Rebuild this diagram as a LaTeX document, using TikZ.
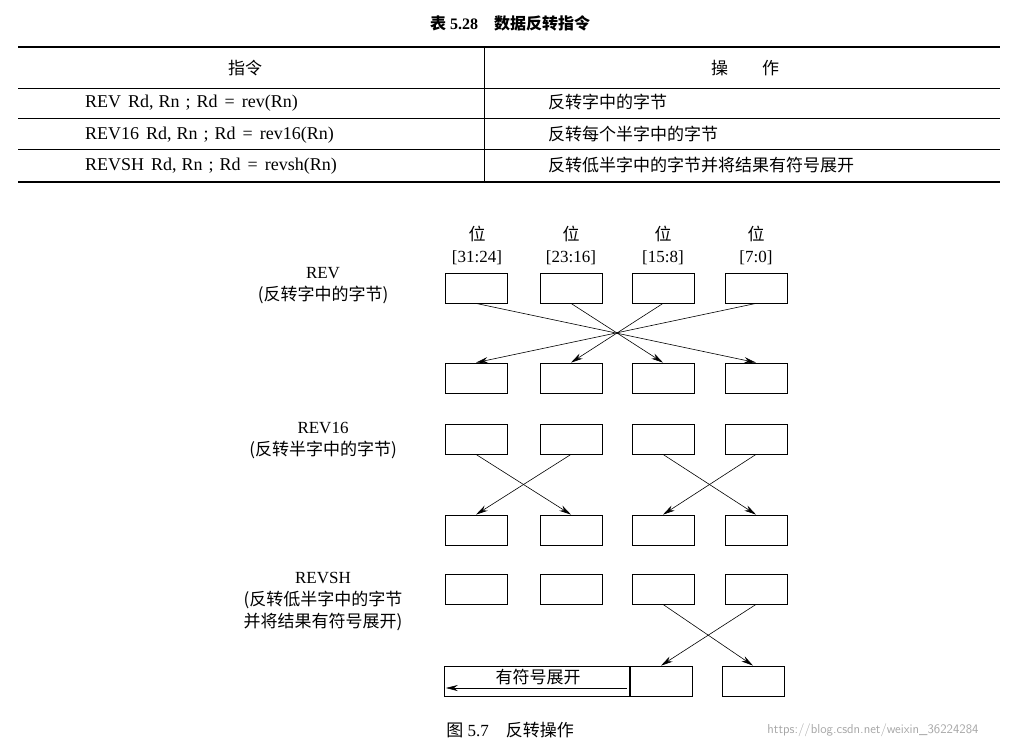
\documentclass[tikz,border=0pt]{standalone}
\usepackage{fontspec}
\setmainfont{Liberation Serif}
\newfontfamily\cjk{Noto Sans CJK SC}
\usetikzlibrary{arrows.meta}
\begin{document}
\begin{tikzpicture}[x=1pt,y=-1pt,
  bx/.style={draw,line width=0.8pt,minimum width=62pt,minimum height=30pt,inner sep=0pt},
  ar/.style={-{Stealth[length=12pt,width=6pt]},line width=0.6pt},
  txt/.style={font=\fontsize{17}{20}\selectfont,inner sep=0pt},
  row/.style={font=\fontsize{18}{20}\selectfont,inner sep=0pt,anchor=west},
  lab/.style={font=\fontsize{17}{22}\selectfont,inner sep=0pt,align=center}]
\useasboundingbox (0,0) rectangle (1020,747);
% table
\node[txt,font=\fontsize{16}{18}\selectfont\bfseries] (title) at (510,23) {{\cjk 表} 5.28\quad {\cjk 数据反转指令}};
\draw[line width=1.4pt] (18,47) -- (1000,47);
\draw[line width=0.6pt] (18,88) -- (1000,88);
\draw[line width=0.5pt] (18,118) -- (1000,118);
\draw[line width=0.5pt] (18,149) -- (1000,149);
\draw[line width=1.4pt] (18,182) -- (1000,182);
\draw[line width=0.5pt] (484,47) -- (484,182);
\node[txt] (h1) at (245,68) {\cjk 指令};
\node[txt] (h2) at (745,68) {\cjk 操\qquad 作};
\node[row] (r1) at (85,103) {REV\hspace{7pt}Rd,\hspace{5pt}Rn\hspace{6pt};\hspace{6pt}Rd\hspace{7pt}=\hspace{7pt}rev(Rn)};
\node[row] (r2) at (85,135) {REV16\hspace{7pt}Rd,\hspace{5pt}Rn\hspace{6pt};\hspace{6pt}Rd\hspace{7pt}=\hspace{7pt}rev16(Rn)};
\node[row] (r3) at (85,166) {REVSH\hspace{7pt}Rd,\hspace{5pt}Rn\hspace{6pt};\hspace{6pt}Rd\hspace{7pt}=\hspace{7pt}revsh(Rn)};
\node[txt,anchor=west] (o1) at (548,102) {\cjk 反转字中的字节};
\node[txt,anchor=west] (o2) at (548,134) {\cjk 反转每个半字中的字节};
\node[txt,anchor=west] (o3) at (548,165) {\cjk 反转低半字中的字节并将结果有符号展开};
% bit headers
\foreach \x/\t [count=\i] in {477/{[31:24]},571/{[23:16]},663/{[15:8]},756/{[7:0]}}{
  \node[lab] (b\i) at (\x,245) {{\cjk 位}\\\t};
}
% labels
\node[lab] (lrev) at (323,286) {REV\\{\cjk (反转字中的字节)}};
\node[lab] (lrev16) at (323,441) {REV16\\{\cjk (反转半字中的字节)}};
\node[lab] (lrevsh) at (323,602) {REVSH\\{\cjk (反转低半字中的字节}\\{\cjk 并将结果有符号展开)}};
% boxes
\foreach \x [count=\i] in {476,571,663,756}{
  \node[bx] (a\i) at (\x,288) {};
  \node[bx] (c\i) at (\x,378) {};
  \node[bx] (d\i) at (\x,439) {};
  \node[bx] (e\i) at (\x,530) {};
  \node[bx] (f\i) at (\x,589) {};
}
\node[bx] (g3) at (661,681) {};
\node[bx] (g4) at (753,681) {};
\node[bx,minimum width=185pt,anchor=east] (g1) at (g3.west) {};
\node[txt] (sx) at (538,677) {\cjk 有符号展开};
\coordinate (sxs) at ([xshift=-3pt,yshift=-7pt]g1.east);
\coordinate (sxe) at ([xshift=2pt,yshift=-7pt]g1.west);
\draw[ar] (sxs) -- (sxe);
% REV arrows
\draw[ar] (a1.south) -- (c4.north);
\draw[ar] (a2.south) -- (c3.north);
\draw[ar] (a3.south) -- (c2.north);
\draw[ar] (a4.south) -- (c1.north);
% REV16
\draw[ar] (d1.south) -- (e2.north);
\draw[ar] (d2.south) -- (e1.north);
\draw[ar] (d3.south) -- (e4.north);
\draw[ar] (d4.south) -- (e3.north);
% REVSH
\draw[ar] (f3.south) -- (g4.north);
\draw[ar] (f4.south) -- (g3.north);
% caption
\node[txt] (cap) at (510,730) {{\cjk 图} 5.7\quad {\cjk 反转操作}};
\node[txt,font=\fontsize{13}{14}\selectfont\sffamily,text=black!35] (wm) at (873,730) {https://blog.csdn.net/weixin\_36224284};
\end{tikzpicture}
\end{document}
